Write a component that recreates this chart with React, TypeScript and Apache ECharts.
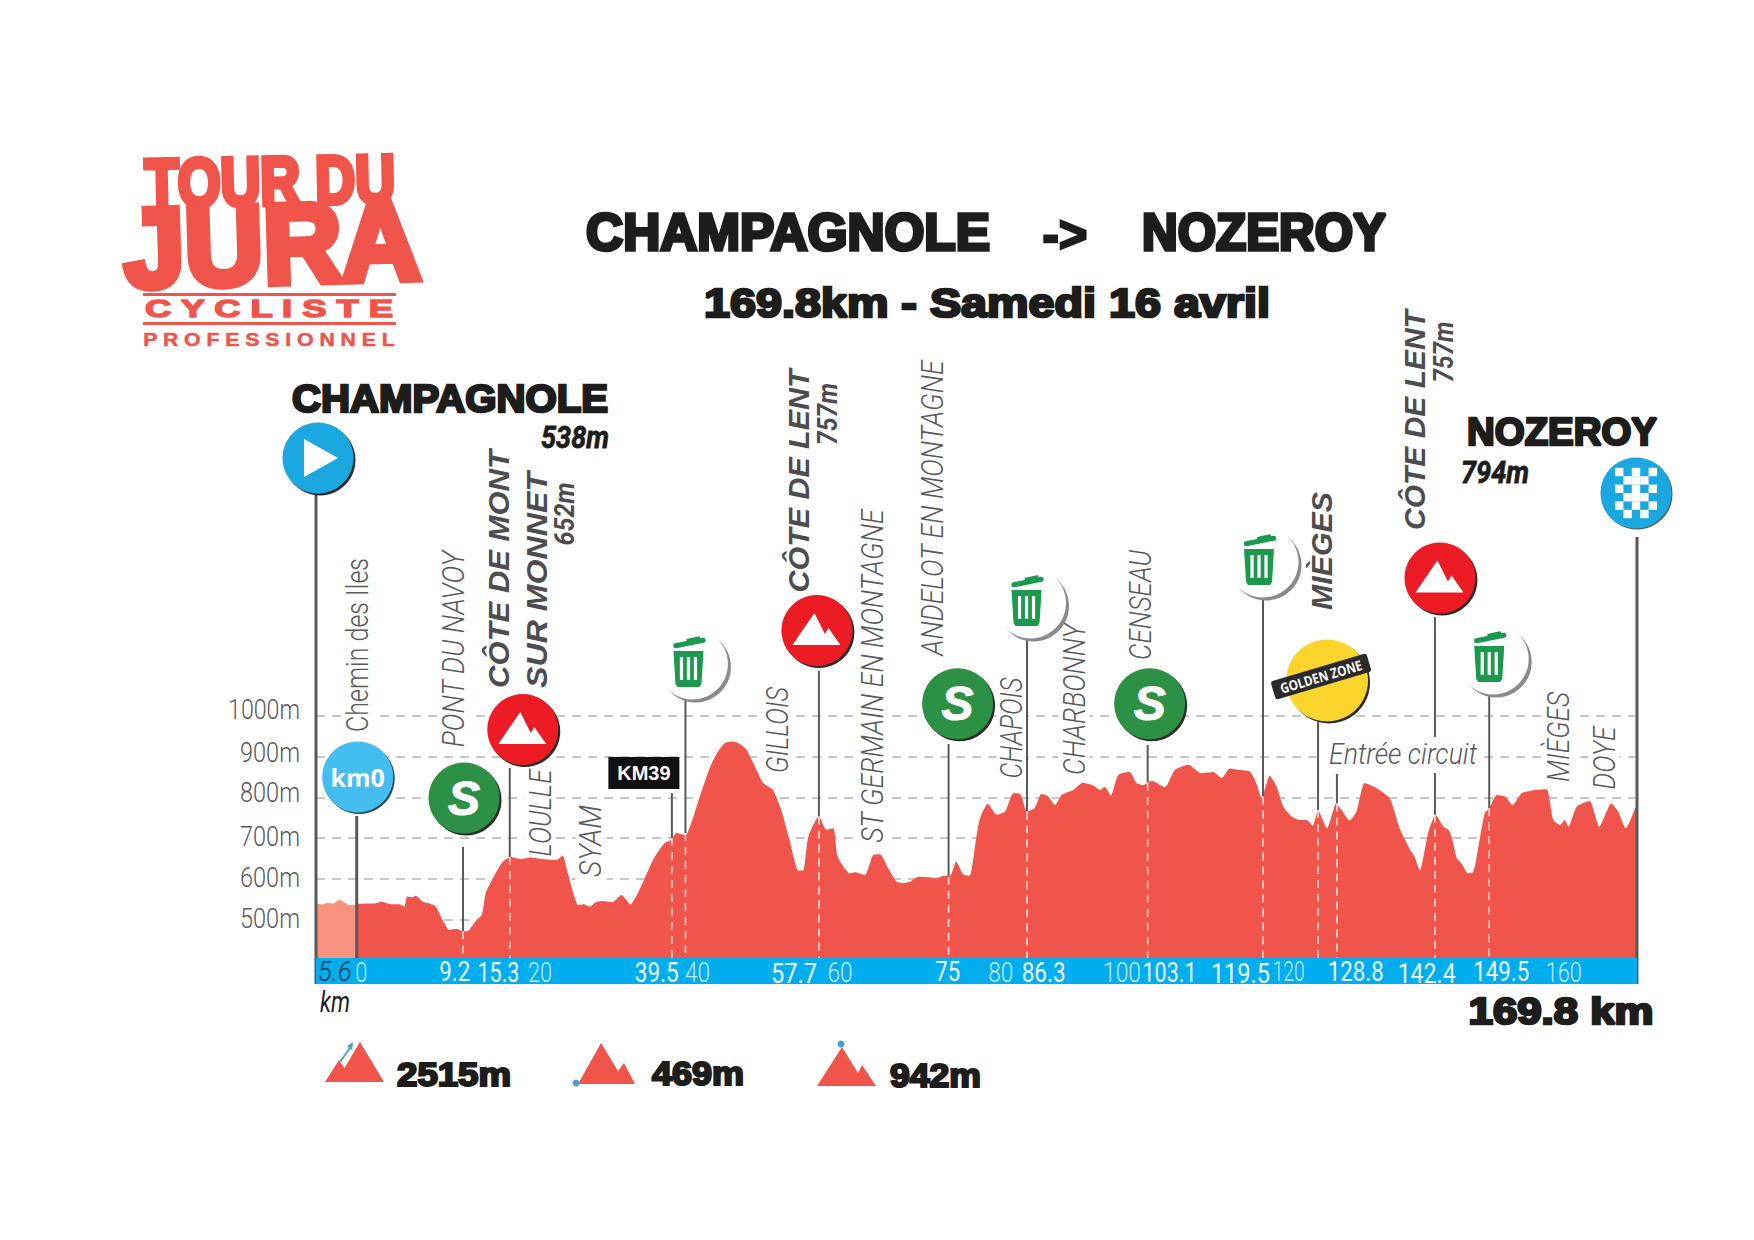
import React, { useEffect, useRef } from "react";
import * as echarts from "echarts";

// ---------- data ----------
const neutralKm = [-5.4, -4.5, -3.8, -3.1, -2.3, -1.6, -0.9, -0.2, 0];
const neutralElevation = [539, 537, 541, 539, 548, 541, 535, 535, 538];

const profileKm = [
  0, 1.4, 2.4, 3.3, 4.3, 5.7, 6.3, 6.7, 7.4, 7.8, 8.8, 10.4, 11.4, 12.3, 13.3, 14.0, 14.7, 15.7, 16.6, 17.1,
  18.3, 19.4, 20.4, 21.8, 23.0, 24.7, 26.5, 27.3, 28.0, 29.4, 30.1, 30.9, 31.8, 32.7, 33.9, 35.1, 36.3, 37.9, 39.3, 40.8,
  41.7, 42.4, 43.6, 44.5, 45.5, 46.9, 47.9, 48.8, 49.8, 50.8, 51.7, 52.8, 53.9, 55.2, 56.3, 57.4, 58.5, 59.2, 59.9, 61.3,
  62.3, 63.2, 63.8, 65.4, 66.1, 67.4, 68.5, 69.4, 70.5, 71.6, 72.5, 73.4, 74.5, 76.2, 76.9, 77.8, 78.7, 79.5, 80.4, 81.3,
  82.0, 82.6, 83.7, 84.9, 86.0, 87.1, 88.0, 88.9, 89.9, 90.8, 91.7, 92.6, 93.5, 95.0, 96.3, 97.7, 98.6, 99.2, 100.0, 101.0,
  102.5, 103.4, 104.3, 105.4, 107.2, 108.5, 110.3, 112.0, 113.6, 114.7, 115.8, 117.1, 118.5, 119.3, 120.0, 121.1, 122.0, 122.9, 124.0, 125.1,
  126.0, 126.8, 127.5, 128.7, 129.9, 130.6, 131.7, 132.6, 133.7, 135.3, 137.0, 138.4, 139.7, 140.3, 141.0, 142.1, 143.1, 144.1, 144.8, 145.2,
  145.9, 146.5, 147.4, 148.1, 148.7, 149.6, 150.2, 151.2, 152.3, 153.3, 154.5, 156.3, 157.8, 158.7, 159.6, 160.2, 160.7, 161.8, 163.5, 164.8,
  166.4, 167.3, 168.3, 169.8,
];
const profileElevation = [
  538, 539, 539, 543, 538, 537, 531, 556, 554, 558, 543, 533, 498, 474, 477, 471, 471, 494, 511, 564,
  609, 642, 653, 648, 652, 648, 646, 657, 613, 535, 537, 531, 543, 545, 542, 560, 537, 589, 646, 687,
  695, 712, 707, 744, 802, 876, 912, 933, 937, 931, 917, 876, 835, 818, 769, 695, 621, 620, 703, 753,
  720, 724, 654, 613, 616, 609, 658, 660, 625, 593, 589, 593, 605, 603, 601, 607, 607, 642, 611, 607,
  679, 744, 784, 757, 765, 810, 808, 765, 773, 808, 802, 781, 806, 818, 836, 829, 818, 826, 804, 855,
  862, 835, 830, 841, 825, 867, 880, 859, 862, 847, 871, 867, 863, 835, 798, 853, 826, 777, 753, 744,
  744, 730, 767, 724, 785, 769, 743, 765, 835, 822, 798, 720, 671, 654, 620, 712, 757, 728, 720, 703,
  650, 638, 613, 617, 671, 761, 773, 806, 802, 781, 810, 818, 820, 744, 732, 744, 728, 777, 791, 728,
  785, 765, 724, 785,
];

const yTicks = [500, 600, 700, 800, 900, 1000];

// where each pin stands on the distance axis, and the height where it meets the road
const markerKm = [-5.4, 0, 14.1, 20.3, 41.8, 43.6, 61.3, 78.5, 88.9, 104.9, 120.2, 127.5, 130, 143, 150.2, 169.8];
const markerElevation = [400, 400, 471, 653, 700, 712, 753, 605, 765, 836, 802, 769, 785, 757, 773, 785];

const tickTexts = ["5.6", "0", "9.2", "15.3", "20", "39.5", "40", "57.7", "60", "75", "80", "86.3", "100", "103.1", "119.5", "120", "128.8", "142.4", "149.5", "160"];
const tickKm = [-2.9, 0.6, 13.0, 18.8, 24.3, 39.8, 45.2, 58.0, 64.1, 78.4, 85.4, 91.1, 101.5, 107.8, 117.2, 123.6, 132.5, 141.9, 151.8, 160.1];
const tickMajor = [0, 0, 1, 1, 0, 1, 0, 1, 0, 1, 0, 1, 0, 1, 1, 0, 1, 1, 1, 0];

const placeNames = [
  "Chemin des Iles", "PONT DU NAVOY", "LOULLE", "SYAM", "GILLOIS", "ST GERMAIN EN MONTAGNE",
  "ANDELOT EN MONTAGNE", "CHAPOIS", "CHARBONNY", "CENSEAU", "MIÈGES", "DOYE",
];
const climbNames = ["CÔTE DE MONT", "SUR MONNET", "CÔTE DE LENT", "MIÈGES", "CÔTE DE LENT"];
const climbHeights = ["652m", "757m", "757m"];
const summaryValues = ["2515m", "469m", "942m"];

// ---------- layout ----------
const W = 1754;
const H = 1240;
const NARROW = 'Roboto, sans-serif';
const SANS = '"Liberation Sans", Arial, sans-serif';
const INK = "#1d1d1b";
const GREY = "#58595b";
const RED = "#f1544a";

const tickWidth = [34, 12, 31, 42, 24, 44, 25, 46, 25, 25, 25, 44, 38, 54, 59, 32, 56, 58, 56, 36];
const yLift: Record<number, number> = { 1000: 7, 900: 4, 800: 5, 700: 2, 600: 1, 500: 1 };

const placeLayout = [
  [358, 645, 174, 0], [453, 649, 197, 1], [540, 813, 87, 1], [591, 841, 72, 1], [778, 730, 86, 1], [872, 676, 334, 1],
  [932, 508, 296, 1], [1012, 728, 101, 1], [1074, 699, 152, 1], [1140, 605, 110, 1], [1558, 737, 90, 1], [1604, 758, 63, 1],
];
const climbLayout = [[499, 569, 238], [537, 580, 216], [799, 481, 223], [1322, 551, 118], [1415, 420, 220]];
const heightLayout = [[565, 514, 63], [828, 414, 62], [1444, 352, 61]];

const PINS: any[] = [
  { kind: "start", off: 2, cy: 458, top: 493, bottomPx: 984, lw: 3 },
  { kind: "km0", off: 1, cy: 777, top: 816, lw: 3, solid: true },
  { kind: "sprint", off: 1, cy: 798, top: 847 },
  { kind: "climb", off: 13, cy: 729.5, top: 768 },
  { kind: "box", off: -28, cy: 773, top: 793 },
  { kind: "trash", off: 7, cy: 664, top: 699 },
  { kind: "climb", off: -2, cy: 630.5, top: 671 },
  { kind: "sprint", off: 9, cy: 703.7, top: 744 },
  { kind: "trash", off: 3.5, cy: 603, top: 637 },
  { kind: "sprint", off: 2, cy: 703.7, top: 745 },
  { kind: "trash", off: 0, cy: 562, top: 597 },
  { kind: "golden", off: 9, cy: 680.5, top: 722 },
  { kind: "none", off: 0, cy: 0, top: 774 },
  { kind: "climb", off: 5, cy: 578, top: 617, gap: [737, 773] },
  { kind: "trash", off: 4, cy: 659, top: 695 },
  { kind: "finish", off: -1, cy: 493, top: 537, bottomPx: 984, lw: 3, noDash: true },
];

const R = 35.5;

function disc(cx: number, cy: number, r: number, fill: string, shadow = "#2b2b2b", d = 2) {
  return [
    { type: "circle", shape: { cx: cx + d, cy: cy + d, r }, style: { fill: shadow } },
    { type: "circle", shape: { cx, cy, r }, style: { fill } },
  ];
}

function label(text: string, x: number, y: number, fontSize: number, extra: any = {}) {
  const { rotation, scaleX, ...st } = extra;
  return {
    type: "text",
    x,
    y,
    rotation: rotation || 0,
    scaleX: scaleX || 1,
    style: { text, fontSize, fontFamily: SANS, fontWeight: "bold", fill: "#fff", align: "center", verticalAlign: "middle", ...st },
  };
}

function mountainIcon(cx: number, cy: number) {
  return {
    type: "polygon",
    shape: { points: [[cx - 24.5, cy + 14.5], [cx - 2.5, cy - 17.5], [cx + 8, cy + 3.5], [cx + 11.5, cy - 2.5], [cx + 23.5, cy + 14.5]] },
    style: { fill: "#fff" },
  };
}

function trashIcon(cx: number, cy: number) {
  const G = "#1b9a4e";
  return [
    { type: "rect", x: cx + 1, y: cy - 20, rotation: 0.2, shape: { x: -16.5, y: -2.5, width: 33, height: 5, r: 2.5 }, style: { fill: G } },
    { type: "rect", x: cx + 5, y: cy - 24, rotation: 0.2, shape: { x: -7, y: -1.5, width: 14, height: 3, r: 1 }, style: { fill: G } },
    { type: "polygon", shape: { points: [[cx - 15, cy - 12], [cx + 15, cy - 12], [cx + 13, cy + 21], [cx + 11, cy + 24], [cx - 11, cy + 24], [cx - 13, cy + 21]] }, style: { fill: G } },
    ...[-7, 0, 7].map((d) => ({ type: "rect", shape: { x: cx + d - 1.6, y: cy - 6, width: 3.2, height: 23 }, style: { fill: "#fff" } })),
  ];
}

function checker(cx: number, cy: number) {
  const out: any[] = [];
  const s = 8.4;
  for (let r = 0; r < 6; r++) {
    for (let c = 0; c < 5; c++) {
      if ((r + c) % 2 === 0 || (r > 0 && r < 5 && c > 0 && c < 4 && r % 2 === 1 && c === 2)) {
        out.push({ type: "rect", shape: { x: cx - 2.5 * s + c * s, y: cy - 3 * s + r * s, width: s, height: s }, style: { fill: "#fff" } });
      }
    }
  }
  return out;
}

function renderPin(_params: any, api: any) {
  const km = api.value(0);
  const elev = api.value(1);
  const i = api.value(2);
  const p = PINS[i];
  const [x, y] = api.coord([km, elev]);
  const base = api.coord([km, 400])[1];
  const cx = x + p.off;
  const cy = p.cy;
  const bottom = p.bottomPx ?? y;
  const stroke = { stroke: GREY, lineWidth: p.lw || 2 };
  const kids: any[] = [];
  if (p.gap) {
    kids.push({ type: "line", shape: { x1: x, y1: p.top, x2: x, y2: p.gap[0] }, style: stroke });
    kids.push({ type: "line", shape: { x1: x, y1: p.gap[1], x2: x, y2: bottom }, style: stroke });
  } else {
    kids.push({ type: "line", shape: { x1: x, y1: p.top, x2: x, y2: bottom }, style: stroke });
  }
  if (!p.noDash && !p.solid && p.bottomPx === undefined) {
    kids.push({ type: "line", shape: { x1: x, y1: y, x2: x, y2: base }, style: { stroke: "#f9d9d2", lineWidth: 1.6, lineDash: [8, 6] } });
  }
  if (p.kind === "start") {
    kids.push(...disc(cx, cy, R, "#1ba8e0"));
    kids.push({ type: "polygon", shape: { points: [[cx - 14, cy - 19], [cx - 14, cy + 19], [cx + 20, cy]] }, style: { fill: "#fff" } });
  } else if (p.kind === "km0") {
    kids.push(...disc(cx, cy, R, "#44bdf0", "#22485a", 1.5));
    kids.push(label("km0", cx, cy, 25, { fontFamily: '"Open Sans", sans-serif' }));
  } else if (p.kind === "sprint") {
    kids.push(...disc(cx, cy, R, "#2d9145"));
    kids.push(label("S", cx, cy, 48, { fontStyle: "italic", stroke: "#fff", lineWidth: 1 }));
  } else if (p.kind === "climb") {
    kids.push(...disc(cx, cy, R, "#ed1c24"));
    kids.push(mountainIcon(cx, cy));
  } else if (p.kind === "box") {
    kids.push({ type: "rect", shape: { x: cx - 35.5, y: cy - 16, width: 71, height: 32 }, style: { fill: "#111" } });
    kids.push(label("KM39", cx, cy, 20));
  } else if (p.kind === "trash") {
    kids.push(...disc(cx, cy, R, "#fff", "#8a8a8a", 3));
    kids.push(...trashIcon(cx - 4, cy - 1));
  } else if (p.kind === "golden") {
    kids.push(...disc(cx, cy, 41, "#fbd52b"));
    kids.push({ type: "rect", x: cx - 6, y: cy - 4, rotation: 0.29, shape: { x: -50, y: -9.5, width: 100, height: 19, r: 3 }, style: { fill: "#2b2b2b" } });
    kids.push(label("GOLDEN ZONE", cx - 6, cy - 4, 14, { rotation: 0.29, scaleX: 0.84, fontFamily: '"Open Sans", sans-serif' }));
  } else if (p.kind === "finish") {
    kids.push(...disc(cx, cy, R, "#1ba8e0", "#555", 1));
    kids.push(...checker(cx, cy));
  }
  return { type: "group", children: kids };
}

function renderTick(_params: any, api: any) {
  const i = api.value(1);
  const [x] = api.coord([api.value(0), 400]);
  const major = tickMajor[i] === 1;
  const text = tickTexts[i];
  const lower = ["57.7", "119.5", "142.4"].includes(text) ? 1.5 : 0;
  const fontSize = 28;
  const weight = major ? "normal" : "300";
  const fstyle = i === 0 ? "italic" : "normal";
  return {
    type: "text",
    x,
    y: 972 + lower,
    scaleX: fitScale(text, `${fstyle} ${weight} ${fontSize}px ${NARROW}`, tickWidth[i]),
    style: {
      text,
      fontSize,
      fontFamily: NARROW,
      fontWeight: weight,
      fontStyle: fstyle,
      fill: i === 0 ? "#123b5c" : major ? "#eefaff" : "#c4ebfb",
      align: "center",
      verticalAlign: "middle",
    },
  };
}

function renderYLabel(_params: any, api: any) {
  const v = api.value(1);
  const [, y] = api.coord([api.value(0), v]);
  const text = `${v}m`;
  const fontSize = 28;
  return {
    type: "text",
    x: 300,
    y: y - yLift[v],
    scaleX: fitScale(text, `normal 300 ${fontSize}px ${NARROW}`, v === 1000 ? 72 : 60),
    style: { text, fontSize, fontFamily: NARROW, fontWeight: "300", fill: GREY, align: "right", verticalAlign: "middle" },
  };
}

let measureCtx: CanvasRenderingContext2D | null = null;
function fitScale(text: string, font: string, width: number) {
  if (!measureCtx) measureCtx = document.createElement("canvas").getContext("2d");
  measureCtx!.font = font;
  const m = measureCtx!.measureText(text).width;
  return m > 0 ? width / m : 1;
}

function txt(text: string, cx: number, cy: number, width: number, size: number, opt: any = {}) {
  const family = opt.family || SANS;
  const weight = opt.weight || "normal";
  const fstyle = opt.fstyle || "normal";
  const font = `${fstyle} ${weight} ${size}px ${family}`;
  const style: any = {
    text,
    fontSize: size,
    fontFamily: family,
    fontWeight: weight,
    fontStyle: fstyle,
    fill: opt.color || GREY,
    align: "center",
    verticalAlign: "middle",
  };
  if (opt.stroke) {
    style.stroke = opt.color || GREY;
    style.lineWidth = opt.stroke;
  }
  if (opt.bg) {
    style.backgroundColor = "#fff";
    style.padding = [0, 6];
  }
  return {
    type: "text",
    silent: true,
    x: cx,
    y: cy,
    z: opt.z ?? 1,
    rotation: opt.rot ? Math.PI / 2 : opt.rotation || 0,
    scaleX: fitScale(text, font, width),
    scaleY: opt.scaleY || 1,
    style,
  };
}

function buildGraphics() {
  const els: any[] = [];
  // band under the profile
  els.push({ type: "rect", silent: true, z: 10, shape: { x: 316, y: 958, width: 1321, height: 26 }, style: { fill: "#00aeef" } });

  // logo
  els.push(txt("TOUR DU", 270, 181, 250, 68, { color: RED, weight: "bold", stroke: 5.5, rotation: 0.02, z: 1 }));
  els.push(txt("JURA", 272, 244, 296, 112, { color: RED, weight: "bold", stroke: 8, rotation: 0.03, z: 1 }));
  els.push({ type: "rect", silent: true, z: 1, shape: { x: 143, y: 293, width: 253, height: 3 }, style: { fill: RED } });
  els.push(txt("C Y C L I S T E", 269, 309, 250, 24, { color: RED, weight: "bold", family: SANS, stroke: 1.4 }));
  els.push({ type: "rect", silent: true, z: 1, shape: { x: 143, y: 322, width: 253, height: 3 }, style: { fill: RED } });
  els.push(txt("P R O F E S S I O N N E L", 269, 339, 252, 19, { color: RED, weight: "bold", stroke: 0.5 }));

  // titles
  els.push(txt("CHAMPAGNOLE", 788, 232, 404, 52, { color: INK, weight: "bold", stroke: 3.6 }));
  els.push(txt("->", 1065, 234, 45, 52, { color: INK, weight: "bold", stroke: 2.4 }));
  els.push(txt("NOZEROY", 1264, 232, 244, 52, { color: INK, weight: "bold", stroke: 3.6 }));
  els.push(txt("169.8km - Samedi 16 avril", 987, 303, 566, 41, { color: INK, weight: "bold", stroke: 2.6 }));
  els.push(txt("CHAMPAGNOLE", 450, 398, 316, 39, { color: INK, weight: "bold", stroke: 2.6 }));
  els.push(txt("538m", 575, 437, 68, 32, { color: INK, weight: "bold", fstyle: "italic", family: NARROW, stroke: 0.8 }));
  els.push(txt("NOZEROY", 1562, 431, 190, 39, { color: INK, weight: "bold", stroke: 2.6 }));
  els.push(txt("794m", 1495, 472, 68, 32, { color: INK, weight: "bold", fstyle: "italic", family: NARROW, stroke: 0.8 }));
  els.push(txt("169.8 km", 1561, 1011, 185, 37, { color: INK, weight: "bold", stroke: 2.6 }));
  els.push(txt("km", 335, 1001, 30, 30, { color: INK, fstyle: "italic", family: NARROW }));

  // names along the road
  placeNames.forEach((name, i) => {
    const [cx, cy, len, italic] = placeLayout[i];
    els.push(txt(name, cx, cy, len, 31, { family: NARROW, weight: "300", fstyle: italic ? "italic" : "normal", rot: true, bg: true }));
  });
  climbNames.forEach((name, i) => {
    const [cx, cy, len] = climbLayout[i];
    els.push(txt(name, cx, cy, len, 29, { weight: "bold", fstyle: "italic", rot: true, color: "#4d4d4f" }));
  });
  climbHeights.forEach((name, i) => {
    const [cx, cy, len] = heightLayout[i];
    els.push(txt(name, cx, cy, len, 27, { weight: "bold", fstyle: "italic", family: NARROW, rot: true, color: "#4d4d4f" }));
  });
  els.push(txt("Entrée circuit", 1403, 754, 148, 30, { family: NARROW, weight: "300", fstyle: "italic", bg: true }));

  // totals
  const mountain = (a: number[][]) => ({ type: "polygon", silent: true, z: 1, shape: { points: a }, style: { fill: RED } });
  els.push(mountain([[325, 1082], [339, 1060], [344.5, 1068], [360, 1042], [384, 1082]]));
  els.push({ type: "line", silent: true, z: 1, shape: { x1: 340, y1: 1062, x2: 352, y2: 1045 }, style: { stroke: "#4a9fd0", lineWidth: 2 } });
  els.push({ type: "polygon", silent: true, z: 1, shape: { points: [[353, 1042], [352, 1050], [347, 1046]] }, style: { fill: "#4a9fd0" } });
  els.push(mountain([[578, 1084], [601, 1043], [618, 1071], [624, 1063], [635, 1084]]));
  els.push({ type: "circle", silent: true, z: 1, shape: { cx: 576, cy: 1083, r: 3.5 }, style: { fill: "#4a9fd0" } });
  els.push(mountain([[817, 1086], [842, 1047], [858, 1073], [862, 1065], [876, 1086]]));
  els.push({ type: "circle", silent: true, z: 1, shape: { cx: 841, cy: 1044, r: 3.5 }, style: { fill: "#4a9fd0" } });
  els.push(txt(summaryValues[0], 454, 1074, 114, 33, { color: INK, weight: "bold", stroke: 2.2 }));
  els.push(txt(summaryValues[1], 698, 1074, 92, 33, { color: INK, weight: "bold", stroke: 2.2 }));
  els.push(txt(summaryValues[2], 935.5, 1075, 91, 33, { color: INK, weight: "bold", stroke: 2.2 }));
  return els;
}

export default function App() {
  const ref = useRef<HTMLDivElement>(null);
  useEffect(() => {
    document.body.style.margin = "0";
    document.body.style.background = "#fff";
    const chart = echarts.init(ref.current!, undefined, { renderer: "svg" });
    chart.setOption({
      animation: false,
      backgroundColor: "#fff",
      grid: { left: 316, right: W - 1637, top: 716, height: 244, containLabel: false },
      xAxis: {
        type: "value",
        min: -5.4,
        max: 169.8,
        axisLine: { show: false },
        axisTick: { show: false },
        axisLabel: { show: false },
        splitLine: { show: false },
      },
      yAxis: {
        type: "value",
        min: 400,
        max: 1000,
        interval: 100,
        axisLine: { show: false },
        axisTick: { show: false },
        axisLabel: { show: false },
        splitLine: { lineStyle: { color: "#b5b5b5", width: 1.5, type: [9, 7] } },
      },
      graphic: { elements: buildGraphics() },
      series: [
        {
          name: "neutral",
          type: "line",
          z: 2,
          showSymbol: false,
          smooth: 0.2,
          lineStyle: { width: 0 },
          areaStyle: { color: "#f7937f", opacity: 1 },
          data: neutralKm.map((k, i) => [k, neutralElevation[i]]),
        },
        {
          name: "profile",
          type: "line",
          z: 3,
          showSymbol: false,
          smooth: 0.2,
          lineStyle: { width: 0 },
          areaStyle: { color: RED, opacity: 1 },
          data: profileKm.map((k, i) => [k, profileElevation[i]]),
        },
        {
          name: "pins",
          type: "custom",
          z: 5,
          clip: false,
          silent: true,
          renderItem: renderPin,
          encode: { x: 0, y: 1 },
          data: markerKm.map((k, i) => [k, markerElevation[i], i]),
        },
        {
          name: "ticks",
          type: "custom",
          z: 12,
          clip: false,
          silent: true,
          renderItem: renderTick,
          encode: { x: 0 },
          data: tickKm.map((k, i) => [k, i]),
        },
        {
          name: "elevation labels",
          type: "custom",
          z: 4,
          clip: false,
          silent: true,
          renderItem: renderYLabel,
          encode: { x: 0, y: 1 },
          data: yTicks.map((v) => [-5.4, v]),
        },
      ],
    });
    return () => chart.dispose();
  }, []);
  return <div ref={ref} style={{ width: W, height: H }} />;
}
